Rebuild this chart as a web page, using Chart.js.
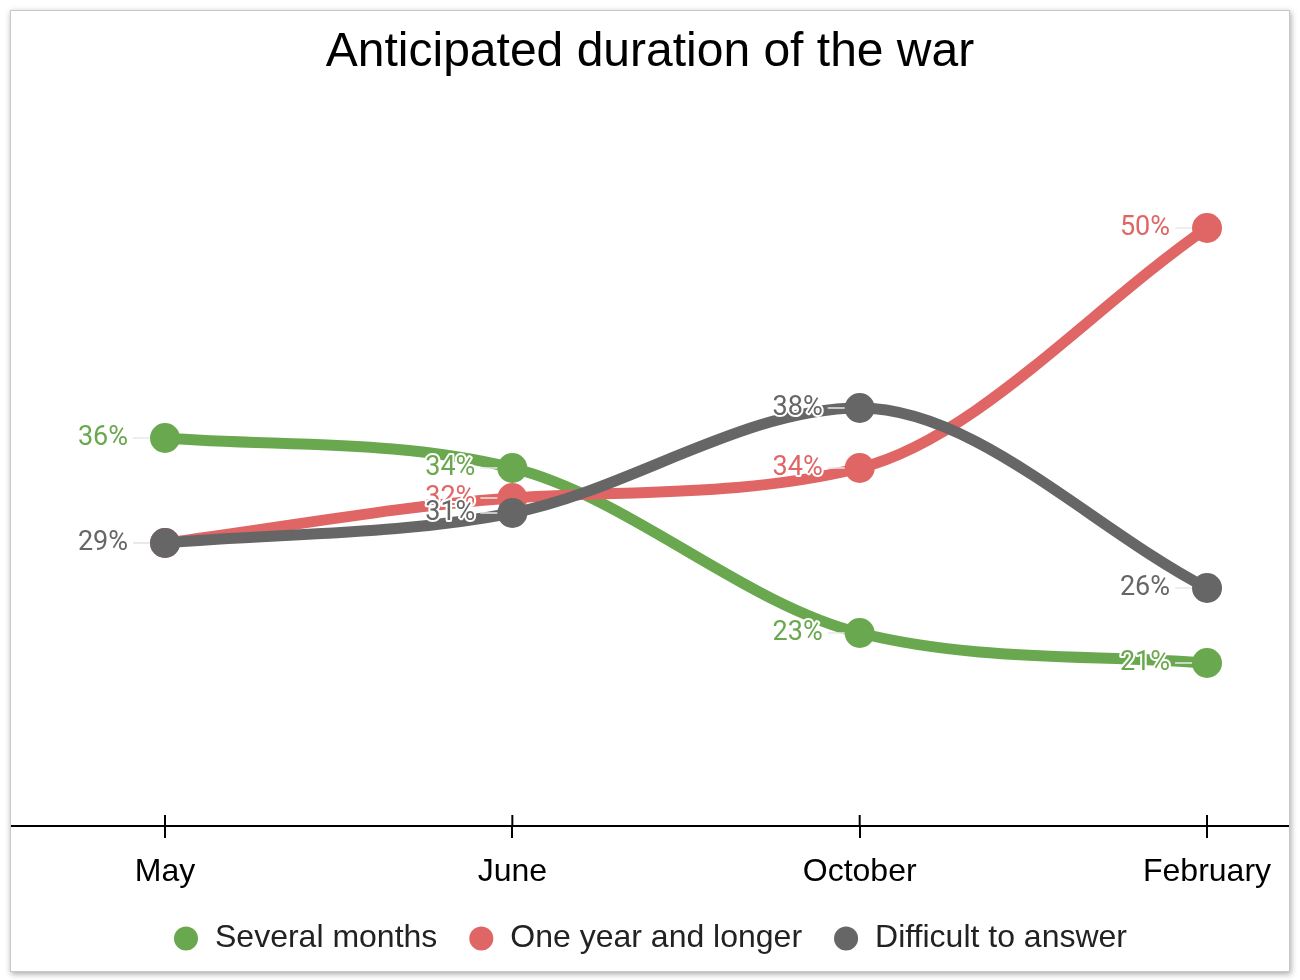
<!DOCTYPE html>
<html>
<head>
<meta charset="utf-8">
<script src="https://cdn.jsdelivr.net/npm/chart.js@4"></script>
<style>
  body { margin: 0; background: #fff; }
  .card {
    position: absolute; left: 10px; top: 10px;
    width: 1278px; height: 960px;
    border: 1px solid #c8c8c8;
    box-shadow: 1px 2px 6px rgba(0,0,0,0.35);
    background: #fff;
  }
  canvas { display: block; }
</style>
</head>
<body>
<div class="card"><canvas id="myChart" width="1278" height="960"></canvas></div>
<script>
// values
var months = ['May', 'June', 'October', 'February'];
var severalMonths = [36, 34, 23, 21];
var oneYearOrLonger = [29, 32, 34, 50];
var difficultToAnswer = [29, 31, 38, 26];

var GREEN = '#6aa84f', RED = '#e06666', GREY = '#666666';

function toPoints(values) {
  return values.map(function (v, i) { return {x: i, y: v}; });
}

// percent labels left of every point, with a white halo
var pointLabels = {
  id: 'pointLabels',
  afterDatasetsDraw: function (chart) {
    var ctx = chart.ctx;
    ctx.save();
    ctx.font = '27px Roboto';
    ctx.textAlign = 'right';
    ctx.textBaseline = 'middle';
    ctx.lineJoin = 'round';
    chart.data.datasets.forEach(function (ds, i) {
      var meta = chart.getDatasetMeta(i);
      meta.data.forEach(function (pt, j) {
        ctx.strokeStyle = '#e8e8e8';
        ctx.lineWidth = 1.5;
        ctx.beginPath();
        ctx.moveTo(pt.x - 32, pt.y);
        ctx.lineTo(pt.x - 15, pt.y);
        ctx.stroke();
        var txt = ds.data[j].y + '%';
        ctx.strokeStyle = '#fff';
        ctx.lineWidth = 4;
        ctx.strokeText(txt, pt.x - 37, pt.y);
        ctx.fillStyle = ds.borderColor;
        ctx.fillText(txt, pt.x - 37, pt.y);
      });
    });
    ctx.restore();
  }
};

// tick marks also reach above the axis line
var tickTops = {
  id: 'tickTops',
  afterDraw: function (chart) {
    var ctx = chart.ctx, x = chart.scales.x, b = chart.chartArea.bottom;
    ctx.save();
    ctx.strokeStyle = '#000';
    ctx.lineWidth = 2;
    months.forEach(function (m, i) {
      var px = x.getPixelForValue(i);
      ctx.beginPath();
      ctx.moveTo(px, b - 11);
      ctx.lineTo(px, b);
      ctx.stroke();
    });
    ctx.restore();
  }
};

var legendHeight = {
  id: 'legendHeight',
  beforeInit: function (chart) {
    var origFit = chart.legend.fit;
    chart.legend.fit = function () {
      origFit.call(chart.legend);
      this.height = 79.5;
    };
  }
};

var ctx = document.getElementById('myChart').getContext('2d');
var myChart = new Chart(ctx, {
  type: 'line',
  data: {
    datasets: [{
        label: 'Several months',
        data: toPoints(severalMonths),
        borderColor: GREEN,
        backgroundColor: GREEN,
        order: 2
      }, {
        label: 'One year and longer',
        data: toPoints(oneYearOrLonger),
        borderColor: RED,
        backgroundColor: RED,
        order: 1
      }, {
        label: 'Difficult to answer',
        data: toPoints(difficultToAnswer),
        borderColor: GREY,
        backgroundColor: GREY,
        order: 0
      }
    ]
  },
  options: {
    responsive: false,
    animation: false,
    devicePixelRatio: 1,
    layout: { padding: 0, autoPadding: false },
    elements: {
      line: { borderWidth: 11, cubicInterpolationMode: 'monotone', fill: false },
      point: { radius: 15, hoverRadius: 15, borderWidth: 0 }
    },
    plugins: {
      tooltip: { enabled: false },
      title: {
        display: true,
        text: 'Anticipated duration of the war',
        color: '#000',
        font: { family: 'Liberation Sans', size: 48, weight: 'normal', lineHeight: 1.2 },
        padding: { top: 13, bottom: 26.4 }
      },
      legend: {
        position: 'bottom',
        labels: {
          usePointStyle: true,
          pointStyle: 'circle',
          boxWidth: 26,
          boxHeight: 17,
          padding: 31,
          color: '#222',
          font: { family: 'Liberation Sans', size: 32 },
          sort: function (a, b) { return a.datasetIndex - b.datasetIndex; }
        }
      }
    },
    scales: {
      x: {
        type: 'linear',
        min: -0.4434,
        max: 3.236,
        afterFit: function (scale) { scale.height = 65.5; },
        border: { display: true, color: '#000', width: 2 },
        grid: { drawOnChartArea: false, drawTicks: true, tickLength: 12, color: '#000', lineWidth: 2 },
        ticks: {
          stepSize: 1,
          includeBounds: false,
          autoSkip: false,
          maxRotation: 0,
          padding: 15,
          color: '#000',
          font: { family: 'Liberation Sans', size: 32 },
          callback: function (v) { return Number.isInteger(v) ? months[v] : ''; }
        }
      },
      y: {
        display: false,
        min: 10.133,
        max: 58
      }
    }
  },
  plugins: [pointLabels, tickTops, legendHeight]
});
</script>
</body>
</html>
